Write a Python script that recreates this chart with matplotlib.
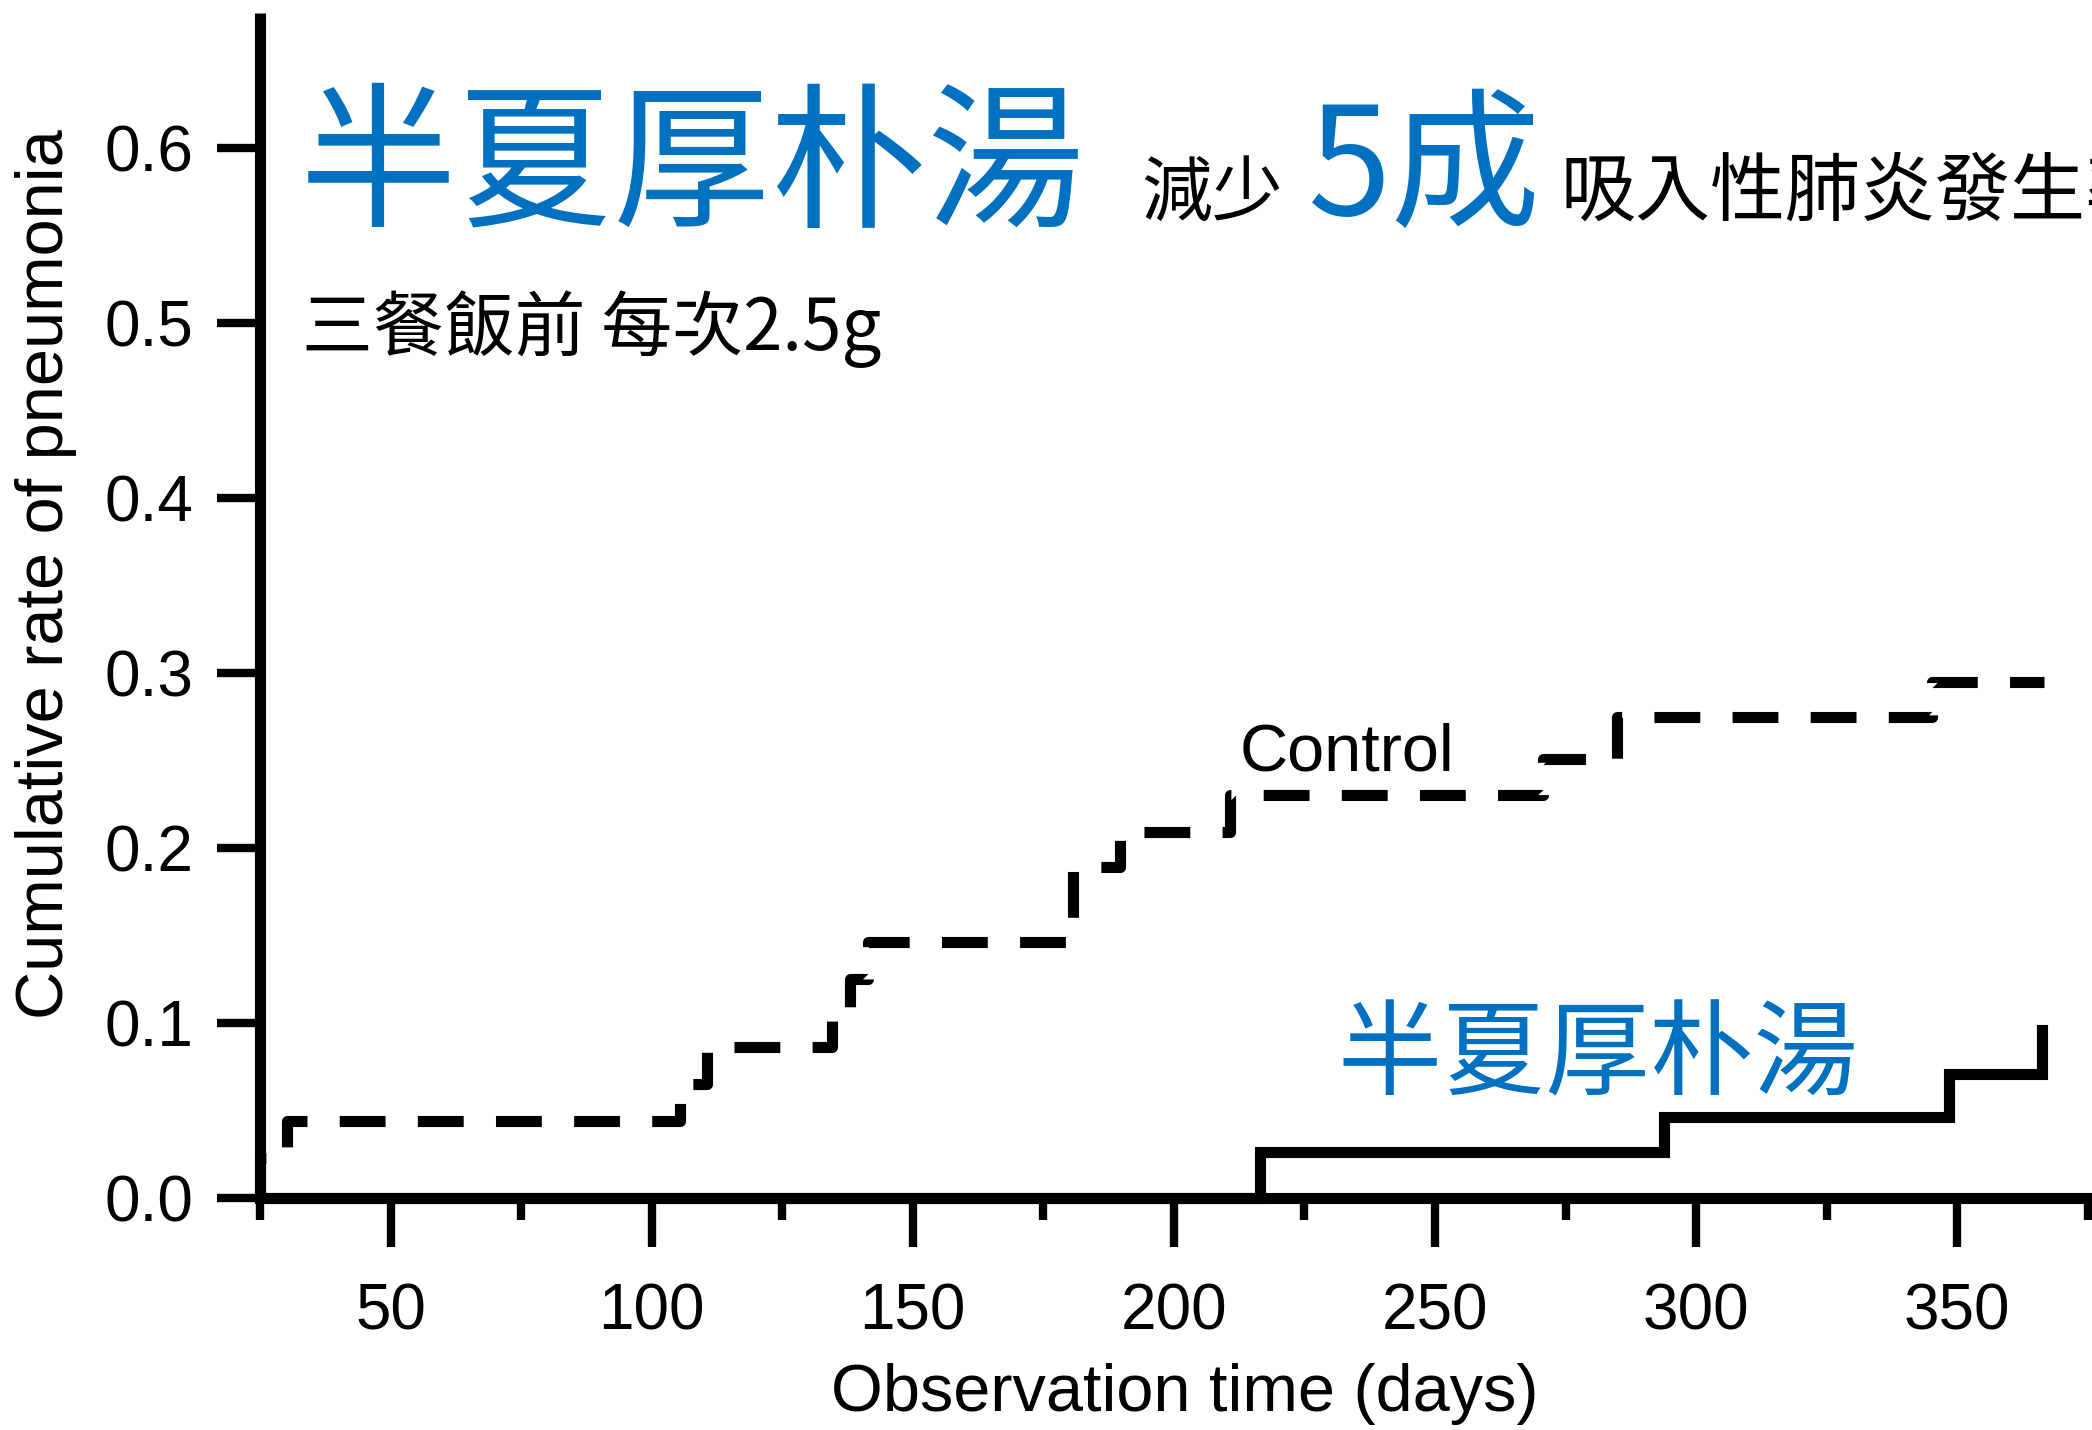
import numpy as np
import matplotlib
matplotlib.use("Agg")
import matplotlib.pyplot as plt

# --- data ---
ctrl_days = [25, 25, 30.2, 105.4, 110.6, 134.5, 138.0, 141.4, 180.7, 189.6, 210.7, 270.7, 284.8, 345.1, 366.6]
ctrl_rate = [0.0, 0.023, 0.044, 0.065, 0.086, 0.103, 0.125, 0.146, 0.189, 0.209, 0.230, 0.251, 0.275, 0.295, 0.295]

treat_days = [25, 216.4, 293.8, 348.4, 366.2, 366.2]
treat_rate = [0.0, 0.026, 0.046, 0.071, 0.071, 0.096]

x_major = [50, 100, 150, 200, 250, 300, 350]
x_minor = [25, 75, 125, 175, 225, 275, 325, 375]
y_ticks = [0.0, 0.1, 0.2, 0.3, 0.4, 0.5, 0.6]

W, H = 2092, 1430
BLUE = "#0070C0"
CJK = ["Noto Sans CJK TC", "DejaVu Sans"]
LAT = "Liberation Sans"


def fx(px):
    return px / W


def fy(py):
    return 1 - py / H


fig = plt.figure(figsize=(W / 100, H / 100), dpi=100)
fig.patch.set_facecolor("white")

ax = fig.add_axes([fx(260), fy(1198), 1 - fx(260), (1198 - 13) / H])
ax.set_xlim(25, 375.8)
ax.set_ylim(0, 0.677)

lw = 8
# dash ~46px on, ~32px off
ax.step(ctrl_days, ctrl_rate, where="post", color="black", lw=lw,
        linestyle=(0, (4.125, 2.906)), dash_capstyle="butt", solid_joinstyle="miter", clip_on=False)
ax.step(treat_days, treat_rate, where="post", color="black", lw=lw,
        solid_joinstyle="miter", clip_on=False)

for s in ["top", "right"]:
    ax.spines[s].set_visible(False)
for s in ["left", "bottom"]:
    ax.spines[s].set_linewidth(lw)
    ax.spines[s].set_capstyle("butt")

ax.set_xticks(x_major)
ax.set_xticks(x_minor, minor=True)
ax.set_yticks(y_ticks)
ax.set_yticklabels([f"{v:.1f}" for v in y_ticks])
ax.tick_params(axis="x", which="major", direction="out", length=35, width=6, pad=26,
               labelsize=46)
ax.tick_params(axis="x", which="minor", direction="out", length=16, width=6)
ax.tick_params(axis="y", which="major", direction="out", length=31, width=6, pad=17,
               labelsize=46)
for lab in ax.get_xticklabels() + ax.get_yticklabels():
    lab.set_fontfamily(LAT)

# axis titles
fig.text(fx(1185), fy(1394), "Observation time (days)", ha="center", va="center",
         fontsize=48, family=LAT)
fig.text(fx(46), fy(574), "Cumulative rate of pneumonia", ha="center", va="center",
         rotation=90, fontsize=48, family=LAT)

# curve labels
ax.text(212.5, 0.244, "Control", fontsize=48, family=LAT, va="baseline", ha="left")
ax.text(231.4, 0.063, "半夏厚朴湯", fontsize=75, family=CJK, color=BLUE,
        va="baseline", ha="left", fontweight="light")

# headline (last word runs off the right edge, as in the source image)
base = 215
fig.text(fx(300), fy(base), "半夏厚朴湯", fontsize=113, family=CJK, color=BLUE,
         va="baseline", ha="left", fontweight="light")
fig.text(fx(1141), fy(base), "減少", fontsize=51, family=CJK, color="black",
         va="baseline", ha="left", fontweight="light")
fig.text(fx(1308), fy(base), "5成", fontsize=108, family=CJK, color=BLUE,
         va="baseline", ha="left", fontweight="light")
fig.text(fx(1561), fy(base), "吸入性肺炎發生率", fontsize=54, family=CJK, color="black",
         va="baseline", ha="left", fontweight="light")
fig.text(fx(302), fy(350), "三餐飯前 每次2.5g", fontsize=51, family=CJK, color="black",
         va="baseline", ha="left", fontweight="light")

plt.savefig("out.png", dpi=100, facecolor="white")
